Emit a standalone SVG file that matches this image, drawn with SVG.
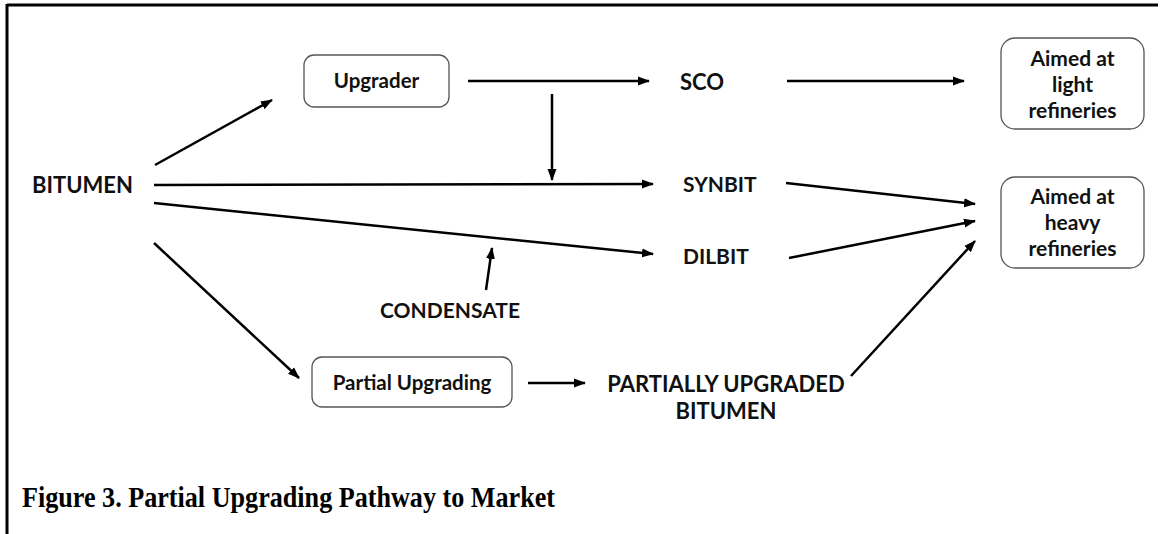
<svg xmlns="http://www.w3.org/2000/svg" width="1161" height="534" viewBox="0 0 1161 534">
  <style>
    .frame { stroke: #000; stroke-width: 3; fill: none; }
    .box { fill: #fff; stroke: #555; stroke-width: 1.3; }
    .lbl { font-family: Lato, "Open Sans", sans-serif; font-weight: bold; font-size: 22px; fill: #111; }
    .lbl.sm { font-size: 21px; }
    .boxtxt { font-family: Lato, "Open Sans", sans-serif; font-weight: bold; font-size: 20.5px; fill: #111; text-anchor: middle; }
    .tgt { font-family: Lato, "Open Sans", sans-serif; font-weight: bold; font-size: 21px; fill: #111; text-anchor: middle; }
    .conn { stroke: #000; stroke-width: 2.5; fill: none; marker-end: url(#arrow); }
    .caption { font-family: "Liberation Serif", serif; font-weight: bold; font-size: 30px; fill: #000; }
  </style>
  <defs>
    <marker id="arrow" markerUnits="userSpaceOnUse" markerWidth="12" markerHeight="10" refX="11" refY="5" orient="auto">
      <path d="M0,0.5 L12,5 L0,9.5 Z" fill="#000"/>
    </marker>
  </defs>

  <rect width="1161" height="534" fill="#fff"/>

  <!-- frame: top and left rules -->
  <g id="frame">
    <line class="frame" x1="7" y1="5" x2="1158" y2="5"/>
    <line class="frame" x1="7" y1="4" x2="7" y2="534"/>
  </g>

  <!-- connectors -->
  <g id="connectors">
    <line class="conn" x1="155" y1="165" x2="272" y2="100"/>
    <line class="conn" x1="468" y1="81" x2="649" y2="81"/>
    <line class="conn" x1="552" y1="94" x2="552" y2="180"/>
    <line class="conn" x1="154" y1="185" x2="653" y2="184"/>
    <line class="conn" x1="154" y1="203" x2="653" y2="254"/>
    <line class="conn" x1="486" y1="290" x2="492" y2="248"/>
    <line class="conn" x1="154" y1="243" x2="299" y2="378"/>
    <line class="conn" x1="528" y1="383" x2="585" y2="383"/>
    <line class="conn" x1="787" y1="81" x2="964" y2="81"/>
    <line class="conn" x1="786" y1="183" x2="975" y2="204"/>
    <line class="conn" x1="789" y1="258" x2="975" y2="221"/>
    <line class="conn" x1="851" y1="376" x2="975" y2="241"/>
  </g>

  <g id="bitumen">
    <text class="lbl" x="32" y="193">BITUMEN</text>
  </g>

  <g id="upgrader">
    <rect class="box" x="304" y="55" width="145" height="52" rx="10"/>
    <text class="boxtxt" x="376.5" y="88">Upgrader</text>
  </g>

  <g id="sco">
    <text class="lbl" x="680" y="90">SCO</text>
  </g>

  <g id="synbit">
    <text class="lbl sm" x="683" y="192">SYNBIT</text>
  </g>

  <g id="dilbit">
    <text class="lbl sm" x="683" y="264">DILBIT</text>
  </g>

  <g id="condensate">
    <text class="lbl sm" x="450" y="318" text-anchor="middle">CONDENSATE</text>
  </g>

  <g id="partial-upgrading">
    <rect class="box" x="312" y="357" width="200" height="50" rx="10"/>
    <text class="boxtxt" x="412" y="390">Partial Upgrading</text>
  </g>

  <g id="partially-upgraded-bitumen">
    <text class="lbl" x="726" y="392" text-anchor="middle">PARTIALLY UPGRADED</text>
    <text class="lbl" x="726" y="419" text-anchor="middle">BITUMEN</text>
  </g>

  <g id="light-refineries">
    <rect class="box" x="1001" y="38" width="143" height="91" rx="14"/>
    <text class="tgt" x="1072.5" y="66">Aimed at</text>
    <text class="tgt" x="1072.5" y="92">light</text>
    <text class="tgt" x="1072.5" y="118">refineries</text>
  </g>

  <g id="heavy-refineries">
    <rect class="box" x="1001" y="177" width="143" height="91" rx="14"/>
    <text class="tgt" x="1072.5" y="204">Aimed at</text>
    <text class="tgt" x="1072.5" y="230">heavy</text>
    <text class="tgt" x="1072.5" y="256">refineries</text>
  </g>

  <g id="caption">
    <text class="caption" x="22" y="507" textLength="533" lengthAdjust="spacingAndGlyphs">Figure 3. Partial Upgrading Pathway to Market</text>
  </g>
</svg>
